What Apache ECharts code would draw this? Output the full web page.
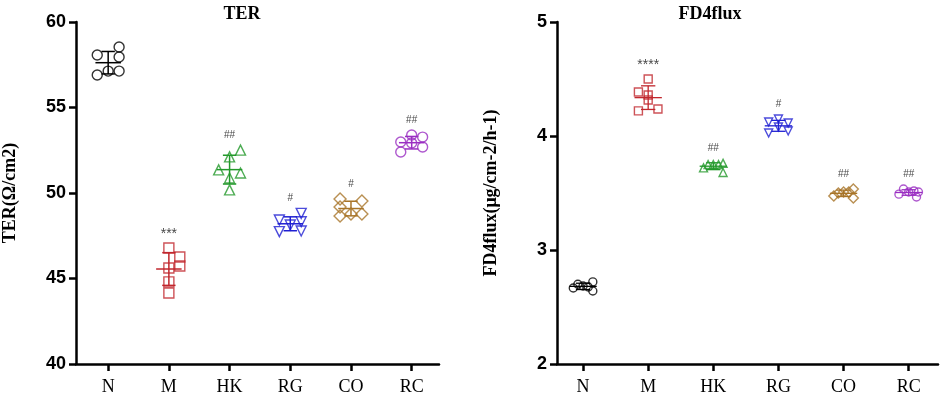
<!DOCTYPE html>
<html>
<head>
<meta charset="utf-8">
<script src="https://cdn.jsdelivr.net/npm/echarts@6/dist/echarts.min.js"></script>
<style>
  html, body { margin: 0; padding: 0; background: #fff; }
  #chart { width: 941px; height: 397px; }
</style>
</head>
<body>
<div id="chart"></div>
<script>
// categories and colours per group
const categories = ['N', 'M', 'HK', 'RG', 'CO', 'RC'];
const groupColors = ['#000000', '#C1272D', '#23992B', '#1F1FD2', '#A87428', '#9A2EC2'];
const groupSymbols = ['circle', 'rect', 'triangle', 'triangle', 'diamond', 'circle'];
const groupRotate = [0, 0, 0, 180, 0, 0];

// TER (left panel), values per group
const terN = [58.07, 58.54, 57.95, 56.90, 57.13, 57.13];
const terM = [46.78, 46.26, 45.73, 45.61, 44.80, 44.15];
const terHK = [52.51, 52.11, 51.35, 51.17, 50.88, 50.18];
const terRG = [48.42, 48.13, 48.81, 48.32, 47.74, 47.78];
const terCO = [49.65, 49.18, 48.65, 48.77, 49.53, 48.77];
const terRC = [52.98, 52.40, 53.39, 52.92, 53.27, 52.69];
// horizontal scatter of the dots inside each group (category units)
const terNx = [-0.18, 0.18, 0.18, -0.18, 0, 0.18];
const terMx = [0, 0.18, 0.18, 0, 0, 0];
const terHKx = [0.18, 0, -0.18, 0.18, 0, 0];
const terRGx = [-0.18, 0, 0.18, 0.18, -0.18, 0.18];
const terCOx = [-0.18, -0.18, -0.18, 0, 0.18, 0.18];
const terRCx = [-0.18, -0.18, 0, 0, 0.18, 0.18];
const terSig = ['', '***', '##', '#', '#', '##'];
const terTicks = [40, 45, 50, 55, 60];

// FD4flux (right panel)
const fluxN = [2.667, 2.700, 2.684, 2.675, 2.720, 2.640];
const fluxM = [4.500, 4.386, 4.360, 4.316, 4.220, 4.237];
const fluxHK = [3.72, 3.75, 3.75, 3.75, 3.76, 3.68];
const fluxRG = [4.123, 4.149, 4.114, 4.026, 4.079, 4.044];
const fluxCO = [3.474, 3.500, 3.509, 3.509, 3.535, 3.456];
const fluxRC = [3.490, 3.535, 3.509, 3.518, 3.509, 3.465];
const fluxNx = [-0.15, -0.08, 0, 0.08, 0.15, 0.15];
const fluxMx = [0, -0.15, 0, 0, -0.15, 0.15];
const fluxHKx = [-0.15, -0.08, 0, 0.08, 0.15, 0.15];
const fluxRGx = [-0.15, 0, 0.15, -0.15, 0, 0.15];
const fluxCOx = [-0.15, -0.08, 0, 0.08, 0.15, 0.15];
const fluxRCx = [-0.15, -0.08, 0, 0.08, 0.15, 0.12];
const fluxSig = ['', '****', '##', '#', '##', '##'];
const fluxTicks = [2, 3, 4, 5];

const terGroups = [terN, terM, terHK, terRG, terCO, terRC];
const terOffsets = [terNx, terMx, terHKx, terRGx, terCOx, terRCx];
const fluxGroups = [fluxN, fluxM, fluxHK, fluxRG, fluxCO, fluxRC];
const fluxOffsets = [fluxNx, fluxMx, fluxHKx, fluxRGx, fluxCOx, fluxRCx];

function meanSd(a) {
  const m = a.reduce((s, v) => s + v, 0) / a.length;
  const sd = Math.sqrt(a.reduce((s, v) => s + (v - m) * (v - m), 0) / (a.length - 1));
  return [m, sd];
}

const chart = echarts.init(document.getElementById('chart'));

function panelSeries(groups, offsets, sig, axisIdx, symSize, lineW) {
  const series = [];
  // mean +/- SD bars
  series.push({
    type: 'custom',
    xAxisIndex: axisIdx,
    yAxisIndex: axisIdx,
    silent: true,
    z: 2,
    data: groups.map((g, i) => [i].concat(meanSd(g))),
    renderItem: (params, api) => {
      const i = api.value(0), m = api.value(1), s = api.value(2);
      const c = api.coord([i, m]);
      const top = api.coord([i, m + s]);
      const bot = api.coord([i, m - s]);
      const wMean = api.size([0.21, 0])[0];
      const wCap = api.size([0.11, 0])[0];
      const style = { stroke: groupColors[i], lineWidth: lineW };
      return {
        type: 'group',
        children: [
          { type: 'line', shape: { x1: c[0], y1: top[1], x2: c[0], y2: bot[1] }, style },
          { type: 'line', shape: { x1: c[0] - wCap, y1: top[1], x2: c[0] + wCap, y2: top[1] }, style },
          { type: 'line', shape: { x1: c[0] - wCap, y1: bot[1], x2: c[0] + wCap, y2: bot[1] }, style },
          { type: 'line', shape: { x1: c[0] - wMean, y1: c[1], x2: c[0] + wMean, y2: c[1] }, style }
        ]
      };
    }
  });
  // the dots
  groups.forEach((g, i) => {
    series.push({
      type: 'scatter',
      xAxisIndex: axisIdx,
      yAxisIndex: axisIdx,
      z: 3,
      symbol: groupSymbols[i],
      symbolRotate: groupRotate[i],
      symbolSize: groupSymbols[i] === 'diamond' ? symSize + 2 : symSize,
      itemStyle: { color: 'rgba(0,0,0,0)', borderColor: groupColors[i], borderWidth: 1.4 },
      data: g.map((v, k) => [i + offsets[i][k], v])
    });
  });
  // significance marks above each group
  series.push({
    type: 'scatter',
    xAxisIndex: axisIdx,
    yAxisIndex: axisIdx,
    symbolSize: 0,
    silent: true,
    z: 4,
    data: groups.map((g, i) => ({
      value: [i, Math.max(...g)],
      label: {
        show: sig[i] !== '',
        formatter: sig[i],
        position: 'top',
        distance: sig[i].indexOf('*') >= 0 ? 7 : 10,
        color: '#111',
        fontFamily: 'Liberation Sans',
        fontSize: sig[i].indexOf('*') >= 0 ? 14 : 10
      }
    }))
  });
  return series;
}

const axisLine = { show: true, onZero: false, lineStyle: { color: '#000', width: 2.5 } };
const axisTick = { show: true, length: 7, lineStyle: { color: '#000', width: 2.5 } };

function xAxisFor(gridIndex, min, max) {
  return {
    type: 'value',
    gridIndex,
    min,
    max,
    axisLine,
    axisTick: Object.assign({}, axisTick, { customValues: [0, 1, 2, 3, 4, 5] }),
    axisLabel: {
      customValues: [0, 1, 2, 3, 4, 5],
      formatter: v => categories[Math.round(v)],
      color: '#000',
      fontFamily: 'Liberation Serif',
      fontSize: 18,
      margin: 14
    },
    splitLine: { show: false }
  };
}

function yAxisFor(gridIndex, ticks, name, nameGap) {
  return {
    type: 'value',
    gridIndex,
    min: ticks[0],
    max: ticks[ticks.length - 1],
    interval: ticks[1] - ticks[0],
    name,
    nameLocation: 'middle',
    nameGap,
    nameMoveOverlap: false,
    nameTextStyle: { color: '#000', fontFamily: 'Liberation Serif', fontWeight: 'bold', fontSize: 18 },
    axisLine,
    axisTick,
    axisLabel: { color: '#000', fontFamily: 'Liberation Sans', fontWeight: 'bold', fontSize: 18, margin: 10 },
    splitLine: { show: false }
  };
}

const option = {
  backgroundColor: '#fff',
  animation: false,
  title: [
    { text: 'TER', left: 237, top: 0, textAlign: 'center',
      textStyle: { fontFamily: 'Liberation Serif', fontWeight: 'bold', fontSize: 18, color: '#000' } },
    { text: 'FD4flux', left: 705, top: 0, textAlign: 'center',
      textStyle: { fontFamily: 'Liberation Serif', fontWeight: 'bold', fontSize: 18, color: '#000' } }
  ],
  grid: [
    { left: 68, top: 22, width: 371, bottom: 33, containLabel: false },
    { left: 557, top: 22, width: 381, bottom: 33, containLabel: false }
  ],
  xAxis: [xAxisFor(0, -0.53, 5.45), xAxisFor(1, -0.4, 5.45)],
  yAxis: [yAxisFor(0, terTicks, 'TER(Ω/cm2)', 57), yAxisFor(1, fluxTicks, 'FD4flux(μg/cm-2/h-1)', 57)],
  series: panelSeries(terGroups, terOffsets, terSig, 0, 10, 1.5)
    .concat(panelSeries(fluxGroups, fluxOffsets, fluxSig, 1, 8, 1.3))
};

chart.setOption(option);
</script>
</body>
</html>
